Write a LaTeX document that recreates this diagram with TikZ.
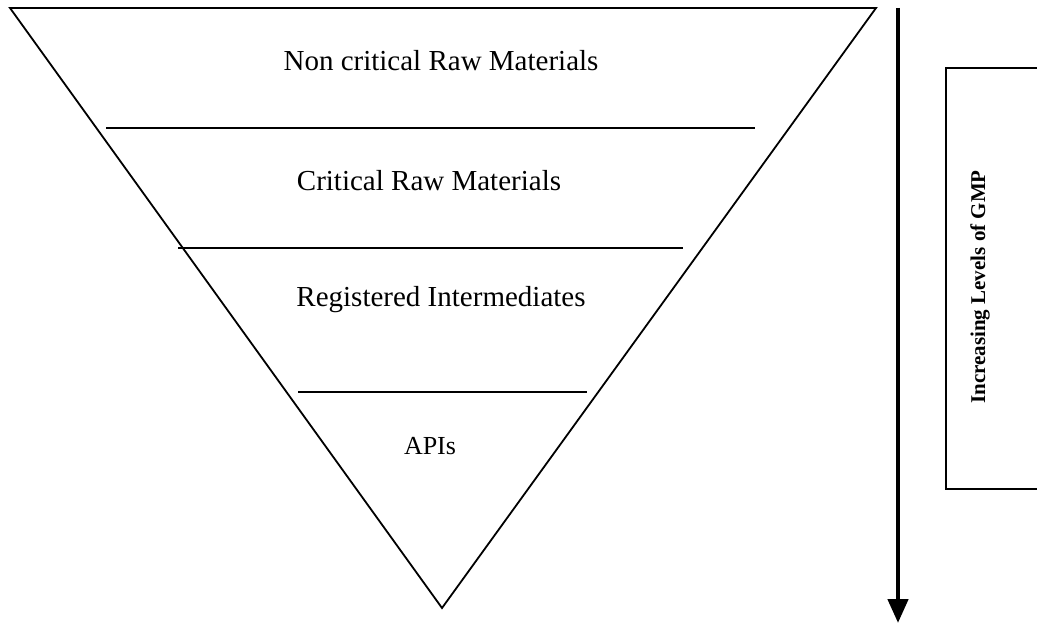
\documentclass[tikz,border=0pt]{standalone}
\usepackage{fontspec}
\setmainfont{Liberation Serif}
\usetikzlibrary{arrows.meta}

\tikzset{
  level/.style={font=\fontsize{14.5}{17}\selectfont},
  gmp/.style={font=\bfseries\fontsize{10.5}{13}\selectfont, rotate=90},
}

\begin{document}
\begin{tikzpicture}[x=0.5pt,y=-0.5pt,line width=0.9pt]
 \useasboundingbox (0,0) rectangle (1037,625);

% the funnel
 \draw (10,8)--(876,8)--(442,608)--cycle;

% dividing lines
 \draw (106,128)--(755,128);
 \draw (178,248)--(683,248);
 \draw (298,392)--(587,392);

% levels
 \node [level] (nonCrit) at (441,61)  {Non critical Raw Materials};
 \node [level] (crit)    at (429,181) {Critical Raw Materials};
 \node [level] (regInt)  at (441,300) {Registered Intermediates};
 \node [level,font=\fontsize{13}{15}\selectfont] (apis) at (430,446) {APIs};

% arrow and box
 \coordinate (arrTop) at (898,8);
 \coordinate (arrBot) at (898,623);
 \draw [line width=2.3pt,-{Triangle[length=12pt,width=10pt]}] (arrTop)--(arrBot);
 \draw (1045,68)--(946,68)--(946,489)--(1045,489);
 \node [gmp] (gmpLbl) at (980,287) {Increasing Levels of GMP};

\end{tikzpicture}
\end{document}
